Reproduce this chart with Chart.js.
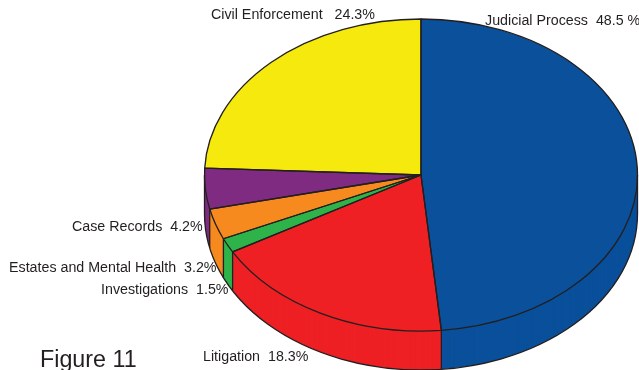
<!DOCTYPE html>
<html>
<head>
<meta charset="utf-8">
<title>Figure 11</title>
<script src="https://cdn.jsdelivr.net/npm/chart.js@4"></script>
<style>
  html, body { margin: 0; padding: 0; background: #fff; }
  canvas { display: block; }
</style>
</head>
<body>
<canvas id="pie" width="639" height="370"></canvas>
<script>
// Caseload shares, clockwise from twelve o'clock
const categories = ['Judicial Process', 'Litigation', 'Investigations',
  'Estates and Mental Health', 'Case Records', 'Civil Enforcement'];
const shares = [48.5, 18.3, 1.5, 3.2, 4.2, 24.3];
const sliceColors = ['#0a509b', '#ee2024', '#2eb34a', '#f68a1f', '#7f2b81', '#f5e90d'];
const shareSuffixes = [' %', '%', '%', '%', '%', '%'];
const gaps = ['  ', '  ', '  ', '  ', '  ', '   '];
const figureTitle = 'Figure 11';

// Tilted-disc geometry for the drawn pie
const disc = { x: 421, y: 175, rx: 216.5, ry: 156, depth: 39 };
const ink = '#231f20';

// Where each slice's caption starts: [left, baseline]
const captionAnchors = [[485, 25], [203, 361], [101, 294], [9, 272], [72, 231], [211, 19]];

const tiltedPie = {
  id: 'tiltedPie',
  // Replaces the flat dataset drawing with an extruded, elliptical one
  beforeDatasetDraw(chart) {
    const ctx = chart.ctx;
    const arcs = chart.getDatasetMeta(0).data;
    const R = arcs[0].outerRadius;

    const paintFaces = (offset) => {
      ctx.save();
      ctx.translate(disc.x, disc.y + offset);
      ctx.scale(disc.rx / R, disc.ry / R);
      ctx.translate(-arcs[0].x, -arcs[0].y);
      arcs.forEach((arc) => arc.draw(ctx));
      ctx.restore();
    };

    // Side wall: stacked copies of the faces, deepest first
    for (let d = disc.depth; d >= 0; d--) paintFaces(d);

    ctx.save();
    ctx.strokeStyle = ink;
    ctx.lineWidth = 1.3;
    ctx.lineJoin = 'round';

    // Lower rim and the two silhouette edges
    ctx.beginPath();
    ctx.moveTo(disc.x + disc.rx, disc.y);
    ctx.lineTo(disc.x + disc.rx, disc.y + disc.depth);
    ctx.ellipse(disc.x, disc.y + disc.depth, disc.rx, disc.ry, 0, 0, Math.PI);
    ctx.lineTo(disc.x - disc.rx, disc.y);
    ctx.stroke();

    // Wall seams where slices meet on the front half
    arcs.forEach((arc) => {
      const a = arc.endAngle;
      if (Math.sin(a) > 0) {
        const px = disc.x + disc.rx * Math.cos(a);
        const py = disc.y + disc.ry * Math.sin(a);
        ctx.beginPath();
        ctx.moveTo(px, py);
        ctx.lineTo(px, py + disc.depth);
        ctx.stroke();
      }
    });

    // Top face outlines
    arcs.forEach((arc) => {
      ctx.beginPath();
      ctx.moveTo(disc.x, disc.y);
      ctx.ellipse(disc.x, disc.y, disc.rx, disc.ry, 0, arc.startAngle, arc.endAngle);
      ctx.closePath();
      ctx.stroke();
    });
    ctx.restore();
    return false;
  },
  afterDraw(chart) {
    const ctx = chart.ctx;
    ctx.save();
    ctx.fillStyle = ink;
    ctx.textBaseline = 'alphabetic';
    ctx.textAlign = 'left';
    ctx.font = '14.25px "Liberation Sans", Arial, sans-serif';
    categories.forEach((name, i) => {
      const [x, y] = captionAnchors[i];
      ctx.fillText(name + gaps[i] + shares[i].toFixed(1) + shareSuffixes[i], x, y);
    });
    ctx.font = '23.3px "Liberation Sans", Arial, sans-serif';
    ctx.fillText(figureTitle, 40, 367);
    ctx.restore();
  }
};

new Chart(document.getElementById('pie'), {
  type: 'pie',
  data: {
    labels: categories,
    datasets: [{ data: shares, backgroundColor: sliceColors, borderWidth: 0 }]
  },
  options: {
    responsive: false,
    animation: false,
    layout: { padding: 0 },
    plugins: { legend: { display: false }, tooltip: { enabled: false } }
  },
  plugins: [tiltedPie]
});
</script>
</body>
</html>
